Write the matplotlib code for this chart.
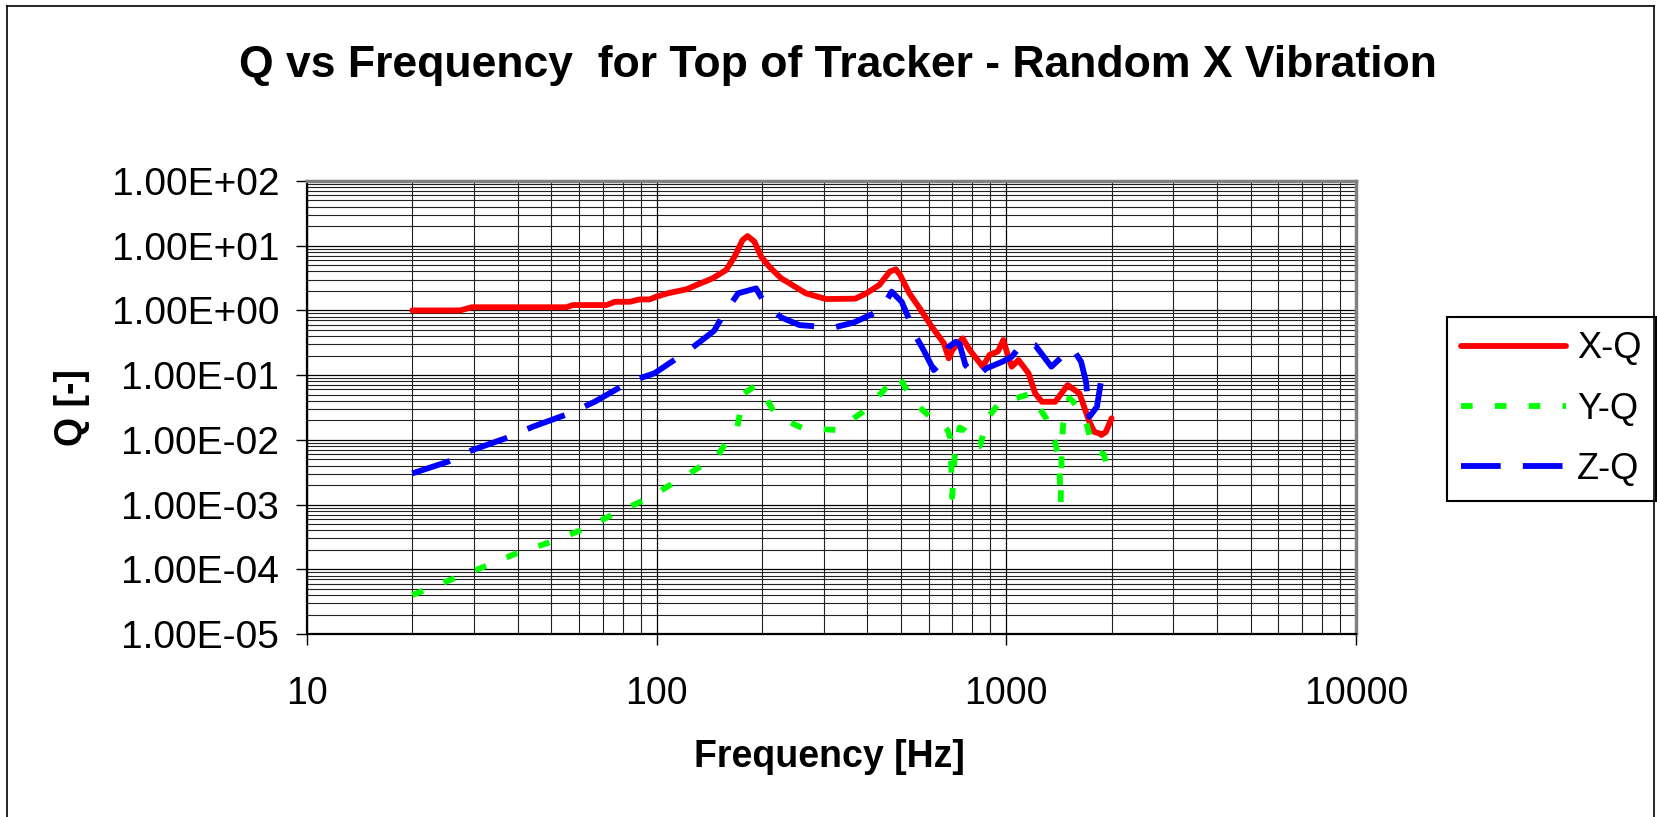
import numpy as np
import matplotlib
matplotlib.use('Agg')
import matplotlib.pyplot as plt
from matplotlib.ticker import FuncFormatter, LogLocator, NullFormatter, FixedLocator
from matplotlib.lines import Line2D

plt.rcParams['font.family'] = ['Liberation Sans', 'DejaVu Sans']

# X-Q series (frequency in Hz, Q)
freq_x = [20, 27.4, 29.6, 55.2, 57.6, 71.8, 76, 83.7, 89.4, 95.4, 99.8, 107.5,
          121.7, 130, 144.5, 158, 167, 176, 182, 190.5, 199, 210, 227, 240,
          267, 305, 370, 398, 433, 464, 483, 497, 528, 565, 612, 663, 684,
          701, 750, 786, 856, 895, 946, 980, 1013, 1036, 1083, 1157, 1209,
          1264, 1380, 1497, 1618, 1728, 1786, 1845, 1870, 1925, 2000]
q_x = [1.0, 1.0, 1.12, 1.12, 1.21, 1.21, 1.36, 1.36, 1.48, 1.48, 1.63, 1.84,
       2.12, 2.47, 3.13, 4.21, 6.76, 12.2, 14.1, 11.5, 6.76, 4.73, 3.13, 2.62,
       1.84, 1.5, 1.52, 1.84, 2.47, 3.97, 4.32, 3.52, 1.84, 1.08, 0.56, 0.31,
       0.182, 0.244, 0.37, 0.244, 0.135, 0.205, 0.233, 0.349, 0.192, 0.135,
       0.171, 0.107, 0.0523, 0.0388, 0.0388, 0.0703, 0.0523, 0.019, 0.0132,
       0.0126, 0.0119, 0.0132, 0.0215]

# Y-Q series
freq_y = [20, 25.6, 31.2, 39.3, 49, 61, 76.8, 94.5, 117.5, 148.5, 170, 178,
          192.5, 200, 219, 227, 262, 329, 389, 438, 489, 500, 543, 612, 641,
          680, 692, 700, 712, 735, 760, 787, 815, 840, 886, 964, 1036, 1178,
          1264, 1300, 1345, 1380, 1416, 1430, 1442, 1455, 1513, 1546, 1640,
          1690, 1747, 1786, 1900, 1940, 2000]
q_y = [4.0e-5, 6.8e-5, 1.03e-4, 1.72e-4, 2.57e-4, 4.04e-4, 7.5e-4, 1.25e-3,
       2.54e-3, 5.5e-3, 0.016, 0.0523, 0.0703, 0.058, 0.0242, 0.0215, 0.0151,
       0.0142, 0.0272, 0.0523, 0.10, 0.084, 0.0388, 0.0215, 0.020, 0.014,
       0.0105, 0.0013, 0.006, 0.0155, 0.014, 0.012, 0.008, 0.008, 0.022,
       0.040, 0.042, 0.052, 0.027, 0.0215, 0.0125, 0.0089, 0.005, 0.001,
       0.009, 0.018, 0.044, 0.040, 0.025, 0.019, 0.0095, 0.0069, 0.006,
       0.004, 0.0032]

# Z-Q series
freq_z = [20, 25.3, 29.8, 38.1, 44.3, 56.4, 66.5, 83.6, 98.6, 125, 146, 154,
          171, 192.5, 201, 215, 227, 256, 319, 365, 438, 470, 502, 521, 548,
          580, 620, 658, 684, 717, 735, 764, 821, 876, 974, 1036, 1112, 1209,
          1345, 1442, 1546, 1636, 1690, 1729, 1816, 1874, 1900]
q_z = [0.00303, 0.0046, 0.0070, 0.0112, 0.016, 0.0257, 0.0388, 0.079, 0.107,
       0.253, 0.485, 0.8, 1.84, 2.19, 1.45, 1.01, 0.78, 0.594, 0.54, 0.646,
       1.01, 1.95, 1.36, 0.85, 0.417, 0.244, 0.12, 0.161, 0.275, 0.328, 0.30,
       0.143, 0.094, 0.127, 0.161, 0.192, 0.31, 0.29, 0.135, 0.192, 0.26,
       0.161, 0.079, 0.0228, 0.0325, 0.094, 0.10]

W, H = 1658, 817
fig = plt.figure(figsize=(W / 100, H / 100), dpi=100)
ax = fig.add_axes([307 / W, 1 - 634 / H, 1049 / W, 453 / H])

ax.plot(freq_x, q_x, color='#ff0000', lw=4.2, label='X-Q', solid_capstyle='round', zorder=3)
ax.plot(freq_y, q_y, color='#00ff00', lw=4.2, dashes=(2.0, 3.8), label='Y-Q', zorder=4)
ax.plot(freq_z, q_z, color='#0000ff', lw=4.2, dashes=(6.8, 3.8), label='Z-Q', zorder=5)

ax.set_xscale('log')
ax.set_yscale('log')
ax.set_xlim(10, 10000)
ax.set_ylim(1e-5, 1e2)

# ticks and grid
ax.xaxis.set_major_locator(FixedLocator([10, 100, 1000, 10000]))
ax.xaxis.set_major_formatter(FuncFormatter(lambda v, p: '%d' % v))
ax.xaxis.set_minor_locator(LogLocator(base=10, subs=np.arange(2, 10), numticks=100))
ax.xaxis.set_minor_formatter(NullFormatter())
ax.yaxis.set_major_locator(FixedLocator([10.0 ** k for k in range(-5, 3)]))
ax.yaxis.set_major_formatter(FuncFormatter(lambda v, p: '%.2E' % v))
ax.yaxis.set_minor_locator(LogLocator(base=10, subs=np.arange(2, 10), numticks=100))
ax.yaxis.set_minor_formatter(NullFormatter())

ax.tick_params(which='major', direction='out', length=8, width=1, color='black')
ax.tick_params(axis='x', which='major', pad=22, labelsize=27)
ax.tick_params(axis='y', which='major', pad=12, labelsize=28)
ax.tick_params(which='minor', length=0)
ax.grid(True, which='major', color='black', lw=0.9)
ax.grid(True, which='minor', color='#222222', lw=0.8)
ax.set_axisbelow(True)

for side in ['left', 'bottom']:
    ax.spines[side].set_color('black')
    ax.spines[side].set_linewidth(1.6)
for side in ['top', 'right']:
    ax.spines[side].set_color('#808080')
    ax.spines[side].set_linewidth(2.5)

ax.set_xlabel('Frequency [Hz]', fontsize=27, fontweight='bold')
ax.xaxis.set_label_coords(0.4976, -0.232)
ax.set_ylabel('Q [-]', fontsize=27, fontweight='bold')
ax.yaxis.set_label_coords(-0.207, 0.5)

fig.text(838 / W, 1 - 66 / H, 'Q vs Frequency  for Top of Tracker - Random X Vibration',
         fontsize=32, fontweight='bold', ha='center', va='center')

leg = ax.legend(loc='upper left', bbox_to_anchor=(1447 / W, 1 - 317 / H),
                bbox_transform=fig.transFigure, borderaxespad=0, fontsize=26,
                handlelength=2.9, handletextpad=0.3, borderpad=0.4, labelspacing=0.7,
                fancybox=False, framealpha=1, edgecolor='black')
leg.get_frame().set_linewidth(1.5)

# outer chart border
fig.add_artist(Line2D([7 / W, 7 / W], [0, 1 - 6 / H], color='black', lw=1.2))
fig.add_artist(Line2D([7 / W, 1654 / W], [1 - 6 / H, 1 - 6 / H], color='black', lw=1.2))
fig.add_artist(Line2D([1654 / W, 1654 / W], [0, 1 - 6 / H], color='black', lw=1.2))

fig.savefig('out.png', dpi=100)
